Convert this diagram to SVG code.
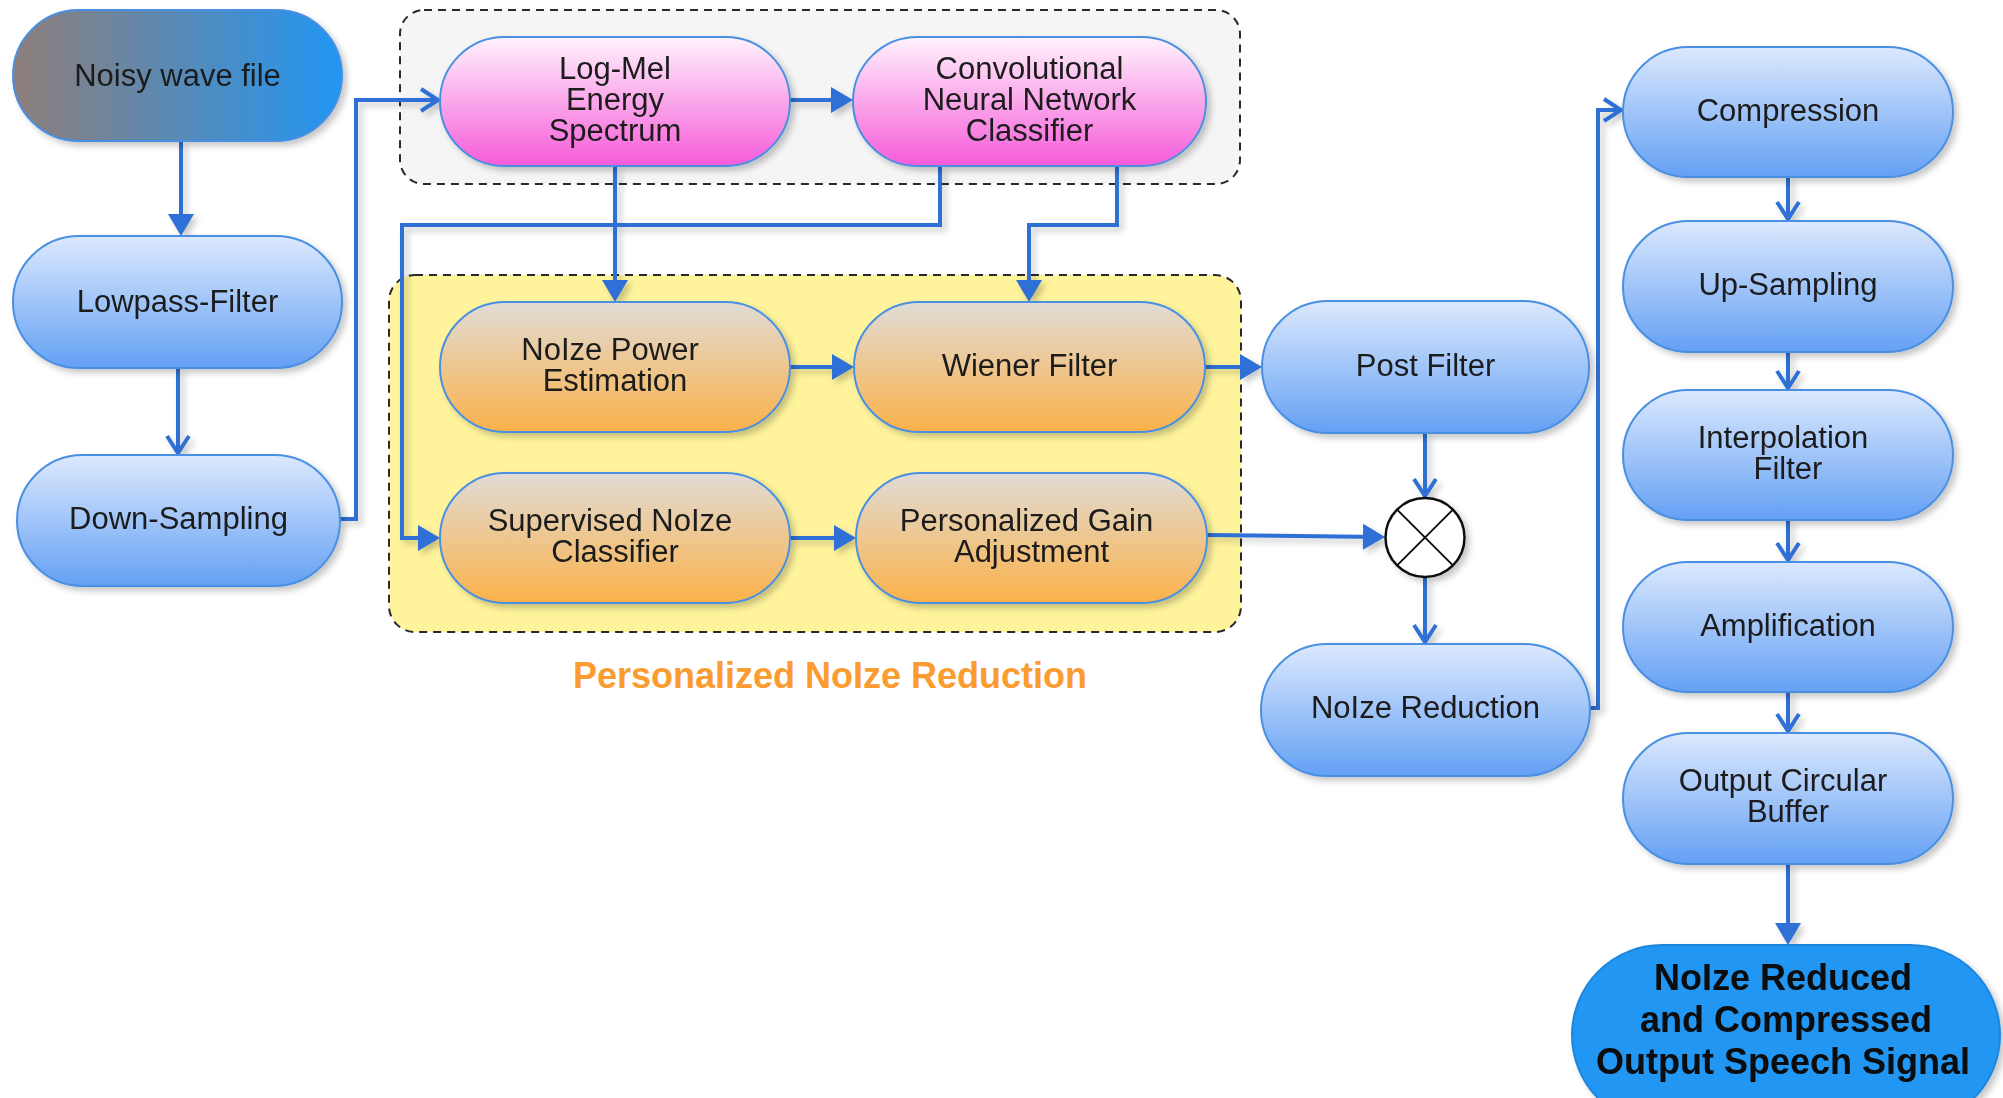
<svg xmlns="http://www.w3.org/2000/svg" width="2003" height="1098" viewBox="0 0 2003 1098">
<defs>
<style>
.t{font-family:"Liberation Sans",Arial,sans-serif;font-size:31px;fill:#1c1c1c;text-anchor:middle}
.tb{font-family:"Liberation Sans",Arial,sans-serif;font-size:36px;font-weight:bold;fill:#0a0a0a;text-anchor:middle}
.lbl{font-family:"Liberation Sans",Arial,sans-serif;font-size:36px;font-weight:bold;fill:#fa9c30;text-anchor:middle}
.blue{fill:url(#gBlue);stroke:#4a90e2;stroke-width:2}
.pink{fill:url(#gPink);stroke:#4a90e2;stroke-width:2}
.orng{fill:url(#gOrng);stroke:#4a90e2;stroke-width:2}
.e{fill:none;stroke:#2d6fd5;stroke-width:4;stroke-linejoin:miter}
.ef{marker-end:url(#fa)}
.eo{marker-end:url(#oa)}
.cont{stroke:#2a2a2a;stroke-width:2;stroke-dasharray:8 6}
</style>
<linearGradient id="gBlue" x1="0" y1="0" x2="0" y2="1">
<stop offset="0" stop-color="#dce9fd"/><stop offset="1" stop-color="#64a0f4"/>
</linearGradient>
<linearGradient id="gPink" x1="0" y1="0" x2="0" y2="1">
<stop offset="0" stop-color="#fff3fc"/><stop offset="1" stop-color="#f65bd9"/>
</linearGradient>
<linearGradient id="gOrng" x1="0" y1="0" x2="0" y2="1">
<stop offset="0" stop-color="#e0dcd6"/><stop offset="1" stop-color="#fbb149"/>
</linearGradient>
<linearGradient id="gNoisy" x1="0" y1="0" x2="1" y2="0">
<stop offset="0" stop-color="#8f7e79"/><stop offset="1" stop-color="#2196f3"/>
</linearGradient>
<filter id="sh" x="-10%" y="-10%" width="130%" height="130%">
<feDropShadow dx="4" dy="4" stdDeviation="3" flood-color="#000" flood-opacity="0.22"/>
</filter>
<marker id="fa" markerUnits="userSpaceOnUse" viewBox="0 0 22 26" markerWidth="22" markerHeight="26" refX="16" refY="13" orient="auto" style="overflow:visible">
<path d="M0,0 L22,13 L0,26 Z" fill="#2d6fd5"/>
</marker>
<marker id="oa" markerUnits="userSpaceOnUse" viewBox="0 0 20 26" markerWidth="20" markerHeight="26" refX="18" refY="13" orient="auto" style="overflow:visible">
<path d="M1,2 L18,13 L1,24" fill="none" stroke="#2d6fd5" stroke-width="4"/>
</marker>
</defs>
<rect width="2003" height="1098" fill="#ffffff"/>

<g id="containers">
<rect id="cnn-group" class="cont" x="400" y="10" width="840" height="174" rx="24" fill="#f5f5f5"/>
<rect id="pnr-group" class="cont" x="389" y="275" width="852" height="357" rx="26" fill="#fff49c"/>
</g>

<g id="connectors" filter="url(#sh)">
<path class="e ef" d="M181,141 V230"/>
<path class="e eo" d="M178,368 V453"/>
<path class="e eo" d="M339,519 H356 V100 H438"/>
<path class="e ef" d="M790,100 H847"/>
<path class="e ef" d="M615,166 V296"/>
<path class="e ef" d="M940,166 V225 H402 V538 H434"/>
<path class="e ef" d="M1117,166 V225 H1029 V296"/>
<path class="e ef" d="M790,367 H848"/>
<path class="e ef" d="M790,538 H850"/>
<path class="e ef" d="M1205,367 H1256"/>
<path class="e ef" d="M1207,535 L1379,537"/>
<path class="e eo" d="M1425,433 V496"/>
<path class="e eo" d="M1425,577 V642"/>
<path class="e eo" d="M1590,708 H1598 V110 H1621"/>
<path class="e eo" d="M1788,177 V219"/>
<path class="e eo" d="M1788,352 V388"/>
<path class="e eo" d="M1788,520 V560"/>
<path class="e eo" d="M1788,692 V731"/>
<path class="e ef" d="M1788,864 V939"/>
</g>

<g id="noisy" filter="url(#sh)">
<rect x="13" y="10" width="329" height="131" rx="65.5" fill="url(#gNoisy)" stroke="#4a90e2" stroke-width="2"/>
<text class="t" x="177.5" y="86">Noisy wave file</text>
</g>
<g id="lowpass" filter="url(#sh)">
<rect class="blue" x="13" y="236" width="329" height="132" rx="66"/>
<text class="t" x="177.5" y="312">Lowpass-Filter</text>
</g>
<g id="downsampling" filter="url(#sh)">
<rect class="blue" x="17" y="455" width="323" height="131" rx="65.5"/>
<text class="t" x="178.5" y="529">Down-Sampling</text>
</g>
<g id="logmel" filter="url(#sh)">
<rect class="pink" x="440" y="37" width="350" height="129" rx="64.5"/>
<text class="t" x="615" y="79">Log-Mel</text>
<text class="t" x="615" y="110">Energy</text>
<text class="t" x="615" y="141">Spectrum</text>
</g>
<g id="cnn" filter="url(#sh)">
<rect class="pink" x="853" y="37" width="353" height="129" rx="64.5"/>
<text class="t" x="1029.5" y="79">Convolutional</text>
<text class="t" x="1029.5" y="110">Neural Network</text>
<text class="t" x="1029.5" y="141">Classifier</text>
</g>
<g id="noisepower" filter="url(#sh)">
<rect class="orng" x="440" y="302" width="350" height="130" rx="65"/>
<text class="t" x="610" y="360">NoIze Power</text>
<text class="t" x="615" y="391">Estimation</text>
</g>
<g id="wiener" filter="url(#sh)">
<rect class="orng" x="854" y="302" width="351" height="130" rx="65"/>
<text class="t" x="1029.5" y="376">Wiener Filter</text>
</g>
<g id="supervised" filter="url(#sh)">
<rect class="orng" x="440" y="473" width="350" height="130" rx="65"/>
<text class="t" x="610" y="531">Supervised NoIze</text>
<text class="t" x="615" y="562">Classifier</text>
</g>
<g id="gain" filter="url(#sh)">
<rect class="orng" x="856" y="473" width="351" height="130" rx="65"/>
<text class="t" x="1026.5" y="531">Personalized Gain</text>
<text class="t" x="1031.5" y="562">Adjustment</text>
</g>
<text id="pnr-label" class="lbl" x="830" y="688">Personalized NoIze Reduction</text>
<g id="postfilter" filter="url(#sh)">
<rect class="blue" x="1262" y="301" width="327" height="132" rx="66"/>
<text class="t" x="1425.5" y="376">Post Filter</text>
</g>
<g id="multiply" filter="url(#sh)">
<circle cx="1425" cy="537.5" r="39.5" fill="#ffffff" stroke="#111111" stroke-width="2.5"/>
<path d="M1397.1,509.6 L1452.9,565.4 M1452.9,509.6 L1397.1,565.4" stroke="#111111" stroke-width="2"/>
</g>
<g id="noisereduction" filter="url(#sh)">
<rect class="blue" x="1261" y="644" width="329" height="132" rx="66"/>
<text class="t" x="1425.5" y="718">NoIze Reduction</text>
</g>
<g id="compression" filter="url(#sh)">
<rect class="blue" x="1623" y="47" width="330" height="130" rx="65"/>
<text class="t" x="1788" y="121">Compression</text>
</g>
<g id="upsampling" filter="url(#sh)">
<rect class="blue" x="1623" y="221" width="330" height="131" rx="65.5"/>
<text class="t" x="1788" y="295">Up-Sampling</text>
</g>
<g id="interpolation" filter="url(#sh)">
<rect class="blue" x="1623" y="390" width="330" height="130" rx="65"/>
<text class="t" x="1783" y="448">Interpolation</text>
<text class="t" x="1788" y="479">Filter</text>
</g>
<g id="amplification" filter="url(#sh)">
<rect class="blue" x="1623" y="562" width="330" height="130" rx="65"/>
<text class="t" x="1788" y="636">Amplification</text>
</g>
<g id="outputbuffer" filter="url(#sh)">
<rect class="blue" x="1623" y="733" width="330" height="131" rx="65.5"/>
<text class="t" x="1783" y="791">Output Circular</text>
<text class="t" x="1788" y="822">Buffer</text>
</g>
<g id="final" filter="url(#sh)">
<rect x="1572" y="945" width="428" height="180" rx="90" fill="#2196f3" stroke="#1e86de" stroke-width="2"/>
<text class="tb" x="1783" y="990">NoIze Reduced</text>
<text class="tb" x="1786" y="1032">and Compressed</text>
<text class="tb" x="1783" y="1074">Output Speech Signal</text>
</g>
</svg>
